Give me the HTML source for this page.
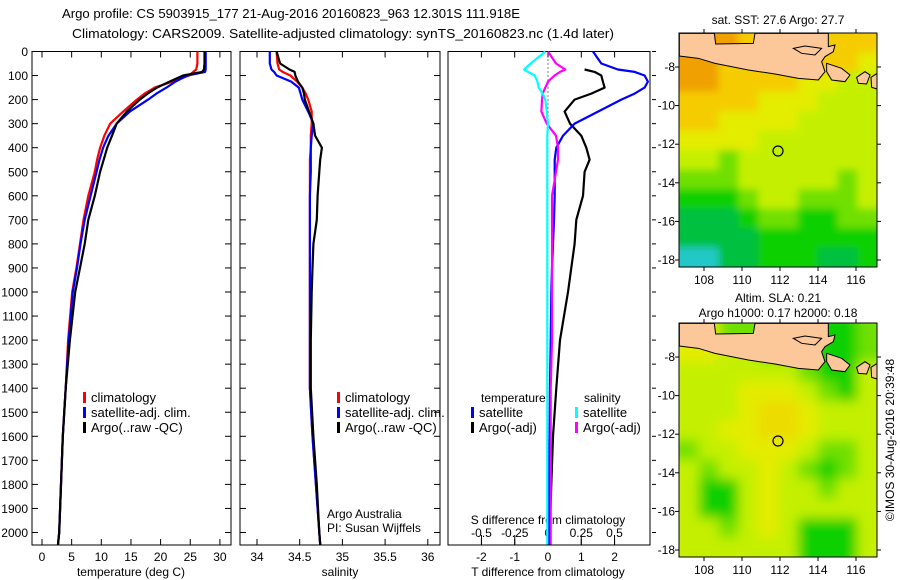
<!DOCTYPE html>
<html><head><meta charset="utf-8"><style>
html,body{margin:0;padding:0;background:#fff}
svg{display:block;font-family:"Liberation Sans",sans-serif}
text{fill:#000}
</style></head><body>
<svg id="fig" width="900" height="580" viewBox="0 0 900 580" xmlns="http://www.w3.org/2000/svg">
<text x="291" y="18" font-size="13" text-anchor="middle" textLength="458" lengthAdjust="spacingAndGlyphs">Argo profile: CS 5903915_177 21-Aug-2016 20160823_963 12.301S 111.918E</text>
<text x="343" y="38" font-size="13" text-anchor="middle" textLength="542" lengthAdjust="spacingAndGlyphs">Climatology: CARS2009. Satellite-adjusted climatology: synTS_20160823.nc (1.4d later)</text>
<g id="plots"></g>
<g id="maps"></g>
</svg>
<script>
// ---- profile data (depth in m) ----
const tDepth=[0,50,75,85,100,125,150,175,200,250,300,350,400,450,500,600,700,800,900,1000,1200,1400,1600,1800,2000,2050];
const tClim=[26.2,26.2,26.0,25.5,24.8,22.0,19.0,17.3,16.0,13.7,11.5,10.5,9.8,9.3,8.9,7.8,7.0,6.4,5.8,5.1,4.4,4.0,3.5,3.2,2.9,2.7];
const tSat=[27.6,27.6,27.6,27.5,24.5,22.5,21.0,19.3,17.9,14.8,12.6,11.2,10.3,9.7,9.2,8.2,7.2,6.5,5.9,5.2,4.5,4.0,3.5,3.2,2.9,2.7];
const tArgo=[27.4,27.4,27.3,27.0,23.8,21.5,19.4,17.8,16.5,14.3,12.6,11.8,11.0,10.4,9.8,8.9,7.8,7.2,6.4,5.6,4.7,4.0,3.5,3.2,2.9,2.7];
const sClim=[34.23,34.24,34.26,34.30,34.39,34.47,34.53,34.57,34.60,34.64,34.64,34.63,34.63,34.62,34.62,34.62,34.62,34.62,34.62,34.62,34.62,34.62,34.65,34.69,34.73,34.74];
const sSat=[34.15,34.15,34.17,34.20,34.23,34.40,34.49,34.51,34.53,34.60,34.66,34.64,34.63,34.63,34.63,34.62,34.62,34.62,34.62,34.62,34.62,34.62,34.65,34.69,34.73,34.74];
const sArgo=[34.23,34.27,34.38,34.44,34.45,34.48,34.53,34.55,34.56,34.61,34.66,34.68,34.76,34.74,34.73,34.71,34.70,34.66,34.65,34.64,34.63,34.63,34.66,34.70,34.73,34.74];
const dtSat=[1.35,1.6,2.1,2.6,2.9,3.0,2.9,2.6,2.2,1.5,0.8,0.45,0.25,0.2,0.2,0.2,0.18,0.15,0.12,0.1,0.08,0.06,0.05,0.03,0.02,0.02];
const dtArgo=[null,null,1.1,1.4,1.6,1.65,1.7,1.3,0.8,0.5,0.66,1.0,1.15,1.25,1.1,1.05,0.85,0.8,0.7,0.6,0.36,0.25,0.15,0.1,0.05,0.05];
const dsSat=[-0.02,-0.13,-0.18,-0.15,-0.1,-0.08,-0.07,-0.04,-0.02,-0.01,0,-0.005,-0.005,-0.005,-0.005,-0.005,-0.005,-0.005,-0.005,-0.005,-0.005,-0.005,-0.005,-0.005,-0.005,-0.005];
const dsArgo=[0,0.06,0.13,0.09,0.05,0.0,-0.02,-0.04,-0.045,-0.05,-0.01,0.06,0.075,0.075,0.06,0.03,0.03,0.03,0.03,0.03,0.03,0.02,0.02,0.02,0.02,0.02];
const depthTicks=[0,100,200,300,400,500,600,700,800,900,1000,1100,1200,1300,1400,1500,1600,1700,1800,1900,2000];
const tTicks=[0,5,10,15,20,25,30];
const sTicks=[34,34.5,35,35.5,36];
const dtTicks=[-2,-1,0,1,2];
const dsTicks=[-0.5,-0.25,0,0.25,0.5];
const dsTickLabels=["-0.5","-0.25","0","0.25","0.5"];

const NS='http://www.w3.org/2000/svg';
const top0=51.5, bot=545;
const yD=d=>top0+d*0.2405;
const xT=v=>42+v*5.93;
const xS=v=>257+(v-34)*85.4;
const xDT=v=>548+v*33.3;
const xDS=v=>548+v*133;
const plots=document.getElementById('plots');
function mk(tag,attrs,parent){const e=document.createElementNS(NS,tag);for(const k in attrs)e.setAttribute(k,attrs[k]);(parent||plots).appendChild(e);return e;}
function txt(s,x,y,anchor,size,parent){const e=mk('text',{x:x,y:y,'text-anchor':anchor||'start','font-size':size||12},parent);e.textContent=s;return e;}
function line(xs,ds,fx,color,name){
  let p='';let pen=false;
  for(let i=0;i<ds.length;i++){if(xs[i]===null){pen=false;continue;}p+=(pen?'L':'M')+fx(xs[i]).toFixed(1)+' '+yD(ds[i]).toFixed(1)+' ';pen=true;}
  const e=mk('path',{d:p,fill:'none',stroke:color,'stroke-width':2.2,'stroke-linejoin':'round'});
  
  
}
const panels=[{x0:32,x1:231,n:'temperature'},{x0:240,x1:440,n:'salinity'},{x0:448,x1:650,n:'difference'}];
panels.forEach(p=>{
  const r=mk('rect',{x:p.x0,y:top0,width:p.x1-p.x0,height:bot-top0,fill:'#fff',stroke:'#000','stroke-width':1});
  
  
  depthTicks.forEach(d=>{
    if(p.n!=='difference'){
    mk('line',{x1:p.x0,x2:p.x0+6,y1:yD(d),y2:yD(d),stroke:'#000'});
    mk('line',{x1:p.x1,x2:p.x1-6,y1:yD(d),y2:yD(d),stroke:'#000'});
    } else {
    mk('line',{x1:p.x1+2,x2:p.x1+6,y1:yD(d),y2:yD(d),stroke:'#000'});
    }
  });
});
depthTicks.forEach(d=>{const t=txt(String(d),28,yD(d)+4.5,'end',12);

});
tTicks.forEach(v=>{mk('line',{x1:xT(v),x2:xT(v),y1:bot,y2:bot-6,stroke:'#000'});mk('line',{x1:xT(v),x2:xT(v),y1:top0,y2:top0+6,stroke:'#000'});
const t=txt(String(v),xT(v),561,'middle',12);

});
let a=txt('temperature (deg C)',131,576,'middle',12);


sTicks.forEach(v=>{mk('line',{x1:xS(v),x2:xS(v),y1:bot,y2:bot-6,stroke:'#000'});mk('line',{x1:xS(v),x2:xS(v),y1:top0,y2:top0+6,stroke:'#000'});
const t=txt(String(v),xS(v),561,'middle',12);

});
a=txt('salinity',340,576,'middle',12);


dtTicks.forEach(v=>{mk('line',{x1:xDT(v),x2:xDT(v),y1:bot,y2:bot-6,stroke:'#000'});mk('line',{x1:xDT(v),x2:xDT(v),y1:top0,y2:top0+6,stroke:'#000'});
const t=txt(String(v),xDT(v),561,'middle',12);

});
a=txt('T difference from climatology',548,576,'middle',12);


dsTicks.forEach((v,i)=>{mk('line',{x1:xDS(v),x2:xDS(v),y1:bot,y2:bot-10,stroke:'#000'});
const t=txt(dsTickLabels[i],xDS(v),537,'middle',12);

});
a=txt('S difference from climatology',548,524,'middle',12);


mk('line',{x1:548,x2:548,y1:top0,y2:bot,stroke:'#000','stroke-dasharray':'1 3'});
line(tClim,tDepth,xT,'#ff0000','temperature-climatology-line');
line(tSat,tDepth,xT,'#0000ff','temperature-satellite-line');
line(tArgo,tDepth,xT,'#000000','temperature-argo-line');
line(sClim,tDepth,xS,'#ff0000','salinity-climatology-line');
line(sSat,tDepth,xS,'#0000ff','salinity-satellite-line');
line(sArgo,tDepth,xS,'#000000','salinity-argo-line');
line(dtArgo,tDepth,xDT,'#000000','t-diff-argo-line');
line(dtSat,tDepth,xDT,'#0000ff','t-diff-satellite-line');
line(dsArgo,tDepth,xDS,'#ff00ff','s-diff-argo-line');
line(dsSat,tDepth,xDS,'#00ffff','s-diff-satellite-line');
function leg(x,y,color,label,name){
  const m=mk('rect',{x:x,y:y-10,width:3,height:11,fill:color});
  
  
  const t=txt(label,x+8,y,'start',13);
  
  
}
leg(83,402,'#ff0000','climatology','legend-climatology');
leg(83,417,'#0000ff','satellite-adj. clim.','legend-satellite');
leg(83,432,'#000000','Argo(..raw -QC)','legend-argo');
leg(337,402,'#ff0000','climatology','legend2-climatology');
leg(337,417,'#0000ff','satellite-adj. clim.','legend2-satellite');
leg(337,432,'#000000','Argo(..raw -QC)','legend2-argo');
a=txt('temperature',481,402,'start',12);


a=txt('salinity',584,402,'start',12);


leg(471,417,'#0000ff','satellite','legend-t-satellite');
leg(471,432,'#000000','Argo(-adj)','legend-t-argo');
leg(575,417,'#00ffff','satellite','legend-s-satellite');
leg(575,432,'#ff00ff','Argo(-adj)','legend-s-argo');
a=txt('Argo Australia',327,518,'start',12);


a=txt('PI: Susan Wijffels',327,532,'start',12);



// ---- maps ----
const maps=document.getElementById('maps');
const colMap={O:'#f0a000',Y:'#f5cc00',y:'#e4ec00',L:'#c4f000',G:'#70e000',g:'#10d000',D:'#00c040',C:'#20c8c8',W:'#ecdc00'};
const sstGrid=["OOOYYYYYYY","OOYYYYYYYy","OOYYYYyyLL","YYYYyyyLLL","YYyyyyLLLL","yyyyLLLLLL","LLGLLLLLLL","GGGLLLLLGL","gggGLLGGGL","DDDgGGggGG","DDDDgggggg","CCDDgggDDg"];
const slaGrid=["yyGGGggggG","yyLLGGGggG","LLLLLLGggL","LLLyyyLGgL","LLLyWWyLLL","LLyyWWyLLL","GLLyyyLGGL","LGLLyLGgGL","LggLyLLGLL","LggLyLLLLL","LLGLyLgggL","LLLLLLgggL"];
const xLon=lon=>780+(lon-112)*19;
const lonTicks=[108,110,112,114,116];
const latTicks=[-8,-10,-12,-14,-16,-18];
function drawMap(y0,grid,name,defsId){
  const g=mk('g',{},maps);
  
  
  const x0=679,w=198,h=234;
  const clip=mk('clipPath',{id:defsId},g);mk('rect',{x:x0,y:y0,width:w,height:h},clip);
  const f=mk('filter',{id:defsId+'f',x:'-5%',y:'-5%',width:'110%',height:'110%'},g);mk('feGaussianBlur',{stdDeviation:name==='sla-map'?6:4},f);
  const inner=mk('g',{'clip-path':'url(#'+defsId+')'},g);
  const cells=mk('g',{filter:'url(#'+defsId+'f)'},inner);
  const cw=w/10,ch=h/12;
  grid.forEach((row,r)=>{for(let c=0;c<10;c++){mk('rect',{x:x0+c*cw-(c==0?10:0),y:y0+r*ch-(r==0?10:0),width:cw+1+(c==0||c==9?10:0),height:ch+1+(r==0||r==11?10:0),fill:colMap[row[c]]},cells);}});
  const land=mk('g',{transform:'translate(665,'+(y0-33)+') scale(0.3333)'},inner);
  const polys=["43,100 148,100 152,132 265,130 270,100 490,100 490,140 510,135 505,155 480,170 470,185 480,215 460,240 400,235 330,222 250,210 150,190 100,175 43,168",
   "485,190 530,205 555,225 540,245 500,240 485,215","575,232 600,215 615,225 605,252 580,250","618,232 640,218 640,268 620,262","385,145 420,138 470,145 450,165 410,160"];
  polys.forEach(p=>{mk('polygon',{points:p,fill:'#fcc89a',stroke:'#000','stroke-width':3},land);});
  mk('rect',{x:x0,y:y0,width:w,height:h,fill:'none',stroke:'#000'},g);
  lonTicks.forEach(v=>{mk('line',{x1:xLon(v),x2:xLon(v),y1:y0,y2:y0-4,stroke:'#000'},g);mk('line',{x1:xLon(v),x2:xLon(v),y1:y0+h,y2:y0+h+4,stroke:'#000'},g);
    const t=txt(String(v),xLon(v),y0+h+17,'middle',12,g);
    
    });
  latTicks.forEach(v=>{const yy=y0+34+(-8-v)*19.3;mk('line',{x1:x0,x2:x0-4,y1:yy,y2:yy,stroke:'#000'},g);mk('line',{x1:x0+w,x2:x0+w+4,y1:yy,y2:yy,stroke:'#000'},g);
    const t=txt(String(v),x0-4,yy+4,'end',12,g);
    
    });
  const c=mk('circle',{cx:778,cy:y0+118,r:5,fill:'none',stroke:'#000','stroke-width':1.2},g);
  
  
}
drawMap(33,sstGrid,'sst-map','clipA');
drawMap(323,slaGrid,'sla-map','clipB');
a=txt('sat. SST: 27.6 Argo: 27.7',778,24,'middle',12,maps);


a=txt('Altim. SLA: 0.21',778,302,'middle',12,maps);


a=txt('Argo h1000: 0.17 h2000: 0.18',778,317,'middle',12,maps);


a=txt('©IMOS 30-Aug-2016 20:39:48',0,0,'middle',12,maps);
a.setAttribute('transform','translate(894,440) rotate(-90)');


</script>
</body></html>
